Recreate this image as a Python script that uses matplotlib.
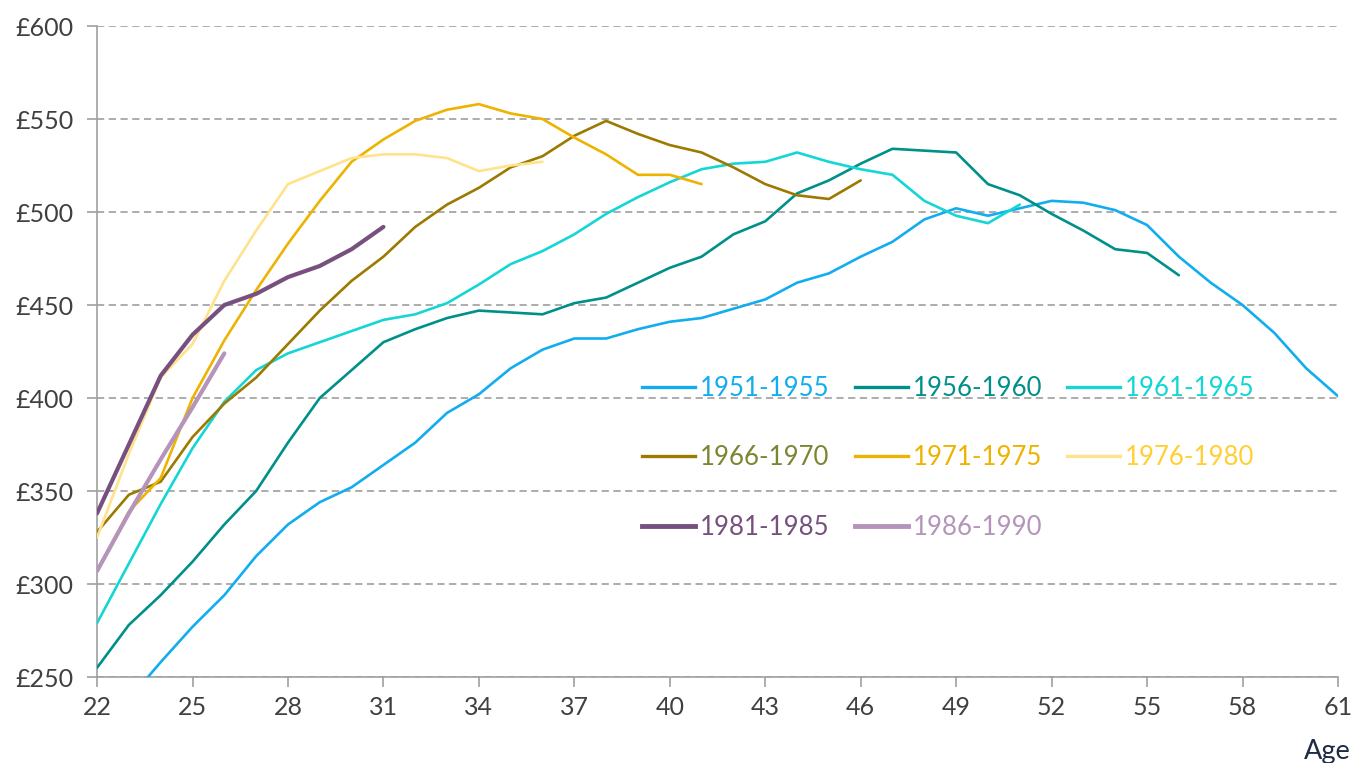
import matplotlib
matplotlib.use("Agg")
import matplotlib.pyplot as plt
from matplotlib.lines import Line2D

plt.rcParams['font.family'] = ['Lato', 'DejaVu Sans']

# Weekly pay by age, for each birth cohort
ages_5155 = list(range(23, 62))
pay_5155 = [238, 258, 277, 294, 315, 332, 344, 352, 364, 376, 392, 402, 416, 426,
            432, 432, 437, 441, 443, 448, 453, 462, 467, 476, 484, 496, 502, 498,
            502, 506, 505, 501, 493, 476, 462, 450, 435, 416, 401]

ages_5660 = list(range(22, 57))
pay_5660 = [255, 278, 294, 312, 332, 350, 376, 400, 415, 430, 437, 443, 447, 446,
            445, 451, 454, 462, 470, 476, 488, 495, 510, 517, 526, 534, 533, 532,
            515, 509, 499, 490, 480, 478, 466]

ages_6165 = list(range(22, 52))
pay_6165 = [279, 311, 343, 373, 398, 415, 424, 430, 436, 442, 445, 451, 461, 472,
            479, 488, 499, 508, 516, 523, 526, 527, 532, 527, 523, 520, 506, 498,
            494, 504]

ages_6670 = list(range(22, 47))
pay_6670 = [328, 348, 355, 379, 397, 411, 429, 447, 463, 476, 492, 504, 513, 524,
            530, 541, 549, 542, 536, 532, 524, 515, 509, 507, 517]

ages_7175 = list(range(22, 42))
pay_7175 = [307, 339, 357, 400, 431, 458, 483, 506, 527, 539, 549, 555, 558, 553,
            550, 540, 531, 520, 520, 515]

ages_7680 = list(range(22, 37))
pay_7680 = [325, 370, 411, 429, 463, 490, 515, 522, 529, 531, 531, 529, 522, 525, 527]

ages_8185 = list(range(22, 32))
pay_8185 = [338, 375, 412, 434, 450, 456, 465, 471, 480, 492]

ages_8690 = list(range(22, 27))
pay_8690 = [307, 338, 367, 395, 424]

cohorts = ['1951-1955', '1956-1960', '1961-1965', '1966-1970', '1971-1975',
           '1976-1980', '1981-1985', '1986-1990']
line_colors = ['#12ADEF', '#00908A', '#14D6D6', '#9C7A00', '#EEB300',
               '#FFE28C', '#77507F', '#B594BB']
text_colors = ['#12ADEF', '#00908A', '#14D6D6', '#7C8530', '#EEB300',
               '#FFCF33', '#77507F', '#B594BB']
widths = [1.9, 1.9, 1.9, 1.9, 1.9, 1.9, 3.0, 3.0]

series = [(ages_5155, pay_5155), (ages_5660, pay_5660), (ages_6165, pay_6165),
          (ages_6670, pay_6670), (ages_7175, pay_7175), (ages_7680, pay_7680),
          (ages_8185, pay_8185), (ages_8690, pay_8690)]

fig = plt.figure(figsize=(13.65, 7.63), dpi=100)
ax = fig.add_axes([0.0711, 0.1127, 0.9091, 0.8532])

for (x, y), c, w in zip(series, line_colors, widths):
    ax.plot(x, y, color=c, linewidth=w, solid_capstyle='round', zorder=3)

ax.set_xlim(22, 61)
ax.set_ylim(250, 600)
ax.set_xticks(range(22, 62, 3))
ax.set_yticks(range(250, 601, 50))
ax.set_yticklabels(['£%d' % v for v in range(250, 601, 50)])

ax.grid(axis='y', color='#A6A6A6', linestyle=(0, (4, 2.5)), linewidth=1.3, zorder=1)
ax.spines['top'].set_visible(False)
ax.spines['right'].set_visible(False)
for s in ['left', 'bottom']:
    ax.spines[s].set_color('#A0A0A0')
    ax.spines[s].set_linewidth(1.2)
ax.tick_params(axis='both', colors='#A0A0A0', labelcolor='#404040', labelsize=18,
               length=7, width=1.2, direction='out')
ax.tick_params(axis='y', pad=10)
ax.tick_params(axis='x', pad=7)

ax.set_xlabel('Age', fontsize=19.5, color='#1F2A44', ha='right')
ax.xaxis.set_label_coords(1.01, -0.095)

# legend, filled row by row
order = [0, 3, 6, 1, 4, 7, 2, 5]
handles = [Line2D([], [], color=line_colors[i], linewidth=widths[i] + 0.5) for i in order]
leg = ax.legend(handles, [cohorts[i] for i in order], ncol=3, frameon=False,
                loc='upper left', bbox_to_anchor=(0.4206, 0.4977), fontsize=18.5,
                handlelength=2.06, handletextpad=0.2, columnspacing=0.97,
                labelspacing=1.72)
for t, i in zip(leg.get_texts(), order):
    t.set_color(text_colors[i])

fig.savefig('out.png', dpi=100)
